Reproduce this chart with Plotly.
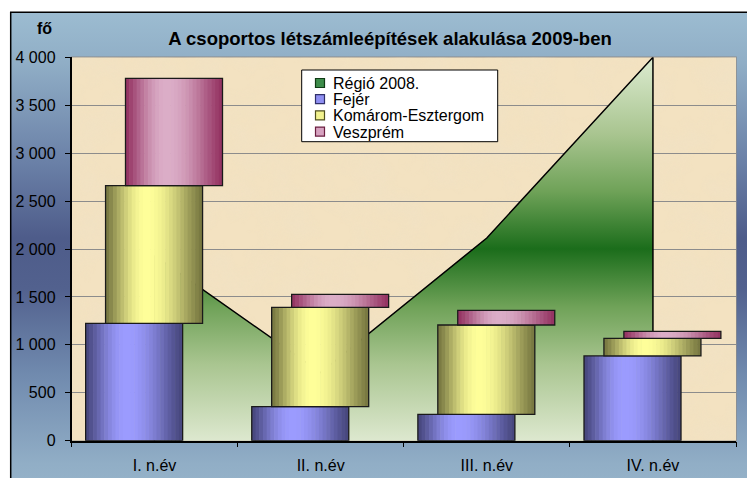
import base64
import numpy as np
import plotly.graph_objects as go

# ---------------- data ----------------
categories = ["I. n.év", "II. n.év", "III. n.év", "IV. n.év"]
region_2008 = [1930, 710, 2115, 4000]
fejer = [1225, 355, 275, 884]
komarom = [1436, 1037, 932, 184]
veszprem = [1120, 135, 153, 73]
y_tick_values = [0, 500, 1000, 1500, 2000, 2500, 3000, 3500, 4000]
y_tick_labels = ["0", "500", "1 000", "1 500", "2 000", "2 500", "3 000", "3 500", "4 000"]
series_names = ["Fejér", "Komárom-Esztergom", "Veszprém"]
area_name = "Régió 2008."
title_text = "A csoportos létszámleépítések alakulása 2009-ben"
unit_text = "fő"

# ---------------- geometry / style ----------------
W, H = 747, 478
PL, PR, PT, PB = 71.5, 736.0, 57.3, 440.7   # plot area in px
FRAME_X, FRAME_Y = 10.7, 12.3
FONT = "Liberation Sans, Arial, sans-serif"

dom_x = [PL / W, PR / W]
dom_y = [(H - PB) / H, (H - PT) / H]

series_vals = [fejer, komarom, veszprem]
bases = [np.zeros(4), np.array(fejer, float), np.array(fejer, float) + np.array(komarom, float)]
bar_width = 0.584
offsets = [-0.415, -0.295, -0.175]
darks = [np.array([0x46, 0x46, 0x7c]), np.array([0x76, 0x76, 0x40]), np.array([0x94, 0x32, 0x62])]
lights = [np.array([0x9c, 0x9c, 0xff]), np.array([0xff, 0xff, 0x9a]), np.array([0xdc, 0xae, 0xc8])]
key_fill = ["#3d8c4a", "#8f8ff2", "#f2f28e", "#d6a2c0"]
key_line = ["#103a14", "#30306a", "#50501e", "#6a1e40"]
N_SLICES = 26


def shade(dark, light, t, peak=0.42):
    if t < peak:
        m = np.sin(np.pi / 2 * t / peak)
    else:
        m = np.sin(np.pi / 2 * (1 - t) / (1 - peak))
    m = m ** 1.25
    c = dark + (light - dark) * m
    return "rgb(%d,%d,%d)" % tuple(np.clip(c, 0, 255).astype(int))


fig = go.Figure()

# area (region 2008) on base axes, drawn beneath the bars
area_x = [categories[0]] + categories + [categories[-1]]
area_y = [0] + region_2008 + [0]
fig.add_trace(go.Scatter(
    x=area_x, y=area_y, mode="lines", fill="toself", name=area_name,
    line=dict(color="black", width=1.5),
    fillgradient=dict(type="vertical", start=0, stop=max(region_2008),
                      colorscale=[[0, "#dde8cf"], [0.2, "#a9c590"], [0.35, "#6fa258"],
                                  [0.5, "#1b6d1b"], [0.65, "#6fa258"], [0.8, "#a9c590"],
                                  [1, "#dcebd0"]]),
    xaxis="x", yaxis="y", hoverinfo="skip", showlegend=False,
))

# bars on overlay axes
for i, name in enumerate(series_names):
    vals = series_vals[i]
    sw = bar_width / N_SLICES
    for k in range(N_SLICES):
        t = (k + 0.5) / N_SLICES
        fig.add_trace(go.Bar(
            x=categories, y=vals, base=bases[i], name=name,
            width=sw * (1.15 if k < N_SLICES - 1 else 1.0), offset=offsets[i] + k * sw,
            marker=dict(color=shade(darks[i], lights[i], t), line=dict(width=0)),
            showlegend=False, xaxis="x2", yaxis="y2", hoverinfo="skip",
        ))
    # outline
    fig.add_trace(go.Bar(
        x=categories, y=vals, base=bases[i], name=name,
        width=bar_width, offset=offsets[i],
        marker=dict(color="rgba(0,0,0,0)", line=dict(color="#1a1a1a", width=1.3)),
        showlegend=False, xaxis="x2", yaxis="y2", hoverinfo="skip",
    ))

# ---------------- background images ----------------
bg_svg = """<svg xmlns='http://www.w3.org/2000/svg' width='100' height='100' preserveAspectRatio='none'>
<defs><linearGradient id='g' x1='0' y1='0' x2='0' y2='1'>
<stop offset='0' stop-color='#9cbcd1'/>
<stop offset='0.1' stop-color='#90aec6'/>
<stop offset='0.3' stop-color='#6a80a7'/>
<stop offset='0.45' stop-color='#4e5c8a'/>
<stop offset='0.55' stop-color='#52618e'/>
<stop offset='0.72' stop-color='#708aae'/>
<stop offset='0.9' stop-color='#91aec6'/>
<stop offset='1' stop-color='#9ab8cc'/>
</linearGradient></defs>
<rect width='100' height='100' fill='url(#g)'/></svg>"""

pw, ph = int(PR - PL), int(PB - PT)
tex_svg = f"""<svg xmlns='http://www.w3.org/2000/svg' width='{pw}' height='{ph}'>
<filter id='n' x='0' y='0' width='100%' height='100%'>
<feTurbulence type='fractalNoise' baseFrequency='0.025' numOctaves='4' seed='7'/>
<feColorMatrix type='matrix' values='0 0 0 0 0.86  0 0 0 0 0.76  0 0 0 0 0.58  1.4 0 0 0 -0.55'/>
</filter>
<rect width='{pw}' height='{ph}' fill='#f3e2c1'/>
<rect width='{pw}' height='{ph}' filter='url(#n)' opacity='0.55'/></svg>"""


def uri(s):
    return "data:image/svg+xml;base64," + base64.b64encode(s.encode("utf-8")).decode("ascii")


images = [
    dict(source=uri(bg_svg), xref="paper", yref="paper", x=FRAME_X / W, y=1 - FRAME_Y / H,
         sizex=1.05, sizey=1.05, xanchor="left", yanchor="top", sizing="stretch", layer="below"),
    dict(source=uri(tex_svg), xref="x domain", yref="y domain", x=0, y=1, sizex=1, sizey=1,
         xanchor="left", yanchor="top", sizing="stretch", layer="below"),
]

shapes = [
    dict(type="rect", xref="x domain", yref="y domain", x0=0, x1=1, y0=0, y1=1,
         line=dict(color="#8c8c8c", width=1.5), fillcolor="rgba(0,0,0,0)", layer="below"),
    dict(type="rect", xref="paper", yref="paper", x0=FRAME_X / W, x1=1.05, y0=-0.05, y1=1 - FRAME_Y / H,
         line=dict(color="black", width=1.5), fillcolor="rgba(0,0,0,0)", layer="above"),
]

annotations = [dict(text=unit_text, x=44.5 / W, y=1 - 28.5 / H, xref="paper", yref="paper",
                    xanchor="center", yanchor="middle", showarrow=False,
                    font=dict(family=FONT, size=16, color="black", weight="bold"))]

# ---------------- legend box (keys + real text) ----------------
LG_L, LG_R, LG_T, LG_B = 301.7, 497.7, 70.0, 141.7
ROW0, ROW_STEP = 83.0, 16.2
KEY_X0, KEY_X1, KEY_H = 315.5, 324.5, 9.0
TEXT_X = 331.0
shapes.append(dict(type="rect", xref="paper", yref="paper", x0=LG_L / W, x1=LG_R / W,
                   y0=1 - LG_B / H, y1=1 - LG_T / H, fillcolor="white",
                   line=dict(color="black", width=1), layer="above"))
legend_labels = [area_name] + series_names
for j, lab in enumerate(legend_labels):
    cy = ROW0 + j * ROW_STEP
    shapes.append(dict(type="rect", xref="paper", yref="paper", x0=KEY_X0 / W, x1=KEY_X1 / W,
                       y0=1 - (cy + KEY_H / 2) / H, y1=1 - (cy - KEY_H / 2) / H,
                       fillcolor=key_fill[j], line=dict(color=key_line[j], width=1.2), layer="above"))
    annotations.append(dict(text=lab, x=TEXT_X / W, y=1 - (cy + 0.5) / H, xref="paper", yref="paper",
                            xanchor="left", yanchor="middle", showarrow=False,
                            font=dict(family=FONT, size=16, color="black")))

axis_font = dict(family=FONT, size=16, color="black")

fig.update_layout(
    width=W, height=H, autosize=False,
    margin=dict(l=0, r=0, t=0, b=0, pad=0, autoexpand=False),
    paper_bgcolor="white", plot_bgcolor="#f3e2c1",
    barmode="overlay",
    showlegend=False,
    images=images, shapes=shapes, annotations=annotations,
    title=dict(text=title_text, x=390 / W, y=1 - 39 / H, xref="paper", yref="paper",
               xanchor="center", yanchor="middle", automargin=False,
               font=dict(family=FONT, size=18.5, color="black", weight="bold")),
    xaxis=dict(domain=dom_x, type="category", categoryorder="array", categoryarray=categories,
               range=[-0.5, 3.5], tickson="boundaries", ticks="outside", ticklen=5,
               tickcolor="black", showline=True, linecolor="black", linewidth=1.5,
               showgrid=False, tickfont=axis_font, ticklabelstandoff=9, fixedrange=True,
               automargin=False),
    yaxis=dict(domain=dom_y, range=[0, 4000], tickmode="array", tickvals=y_tick_values,
               ticktext=y_tick_labels, ticks="outside", ticklen=5, tickcolor="black",
               showline=True, linecolor="black", linewidth=1.5, showgrid=True,
               gridcolor="#8c8c8c", gridwidth=1, zeroline=False, tickfont=axis_font,
               ticklabelstandoff=6, fixedrange=True, automargin=False),
    xaxis2=dict(overlaying="x", type="category", categoryorder="array", categoryarray=categories,
                range=[-0.5, 3.5], visible=False, fixedrange=True),
    yaxis2=dict(overlaying="y", range=[0, 4000], visible=False, fixedrange=True),
)

fig.write_html("out.html", config={"displayModeBar": False},
               post_script="document.body.style.margin='0';document.body.style.overflow='hidden';")
